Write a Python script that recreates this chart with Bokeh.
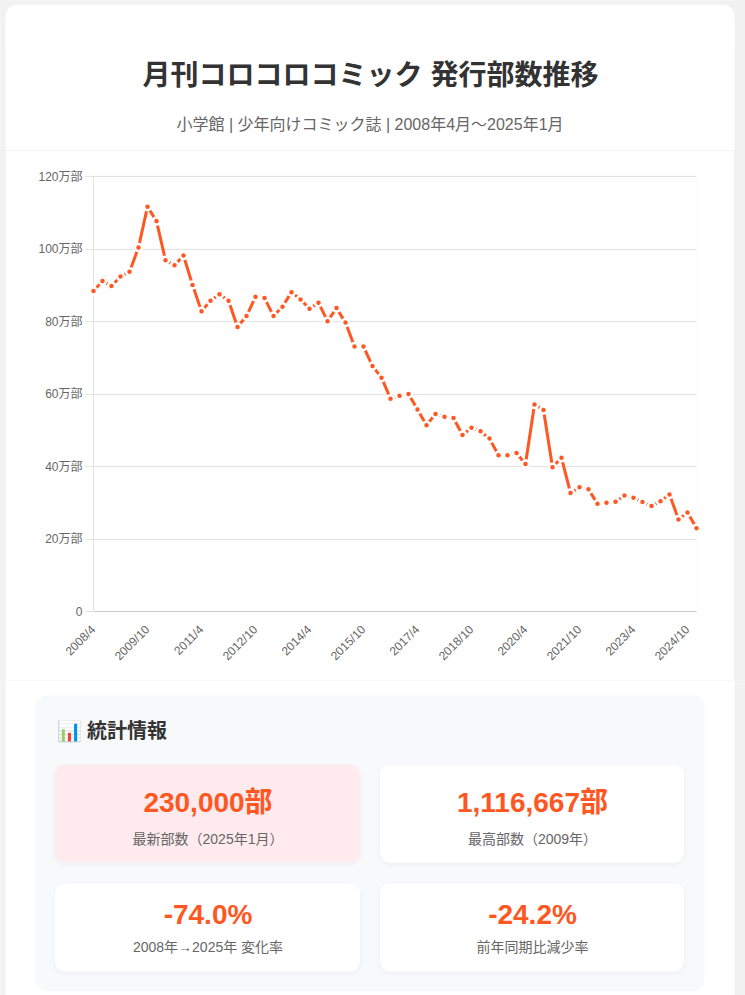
from math import pi
from bokeh.embed import file_html
from bokeh.layouts import column
from bokeh.models import BoxAnnotation, FixedTicker, Label, Range1d
from bokeh.plotting import figure
from bokeh.resources import INLINE

months = ["2008/4","2008/7","2008/10","2009/1","2009/4","2009/7","2009/10","2010/1","2010/4","2010/7",
          "2010/10","2011/1","2011/4","2011/7","2011/10","2012/1","2012/4","2012/7","2012/10","2013/1",
          "2013/4","2013/7","2013/10","2014/1","2014/4","2014/7","2014/10","2015/1","2015/4","2015/7",
          "2015/10","2016/1","2016/4","2016/7","2016/10","2017/1","2017/4","2017/7","2017/10","2018/1",
          "2018/4","2018/7","2018/10","2019/1","2019/4","2019/7","2019/10","2020/1","2020/4","2020/7",
          "2020/10","2021/1","2021/4","2021/7","2021/10","2022/1","2022/4","2022/7","2022/10","2023/1",
          "2023/4","2023/7","2023/10","2024/1","2024/4","2024/7","2024/10","2025/1"]
copies = [88.4,91.2,89.8,92.4,93.7,100.4,111.67,107.7,96.9,95.5,
          98.2,90.1,82.8,85.7,87.5,85.7,78.5,81.5,86.8,86.5,
          81.5,84.1,88.1,86.1,83.5,85.2,80.1,83.7,79.7,73.1,
          73.1,67.7,64.5,58.7,59.5,60.0,55.7,51.4,54.5,53.7,
          53.4,48.7,50.7,49.7,47.7,43.1,43.1,43.7,40.7,57.1,
          55.6,39.8,42.4,32.7,34.3,33.7,29.7,30.0,30.3,32.0,
          31.4,30.2,29.1,30.4,32.3,25.4,27.3,23.0]
y_ticks = [0,20,40,60,80,100,120]
title = "月刊コロコロコミック 発行部数推移"
subtitle = "小学館 | 少年向けコミック誌 | 2008年4月〜2025年1月"
stats_heading = "📊 統計情報"
stat_values = ["230,000部","1,116,667部","-74.0%","-24.2%"]
stat_labels = ["最新部数（2025年1月）","最高部数（2009年）","2008年→2025年 変化率","前年同期比減少率"]

FONT = "Liberation Sans, Noto Sans CJK JP"
PAGE = "#f1f1f1"
W, H = 745, 995
HEAD_H, CHART_H = 150, 530
FL, FR, FT, FB = 93, 696, 175, 611
CARD_L, CARD_R = 5, 734
PX_PER_UNIT = 435 / 120


def panel(y0, y1, nudge=0):
    """A figure whose whole canvas is a frame with page-pixel data coordinates."""
    f = figure(width=W, height=y1-y0, output_backend="svg", toolbar_location=None,
               x_range=Range1d(0, W), y_range=Range1d(y1+nudge, y0+nudge), x_axis_location=None, y_axis_location=None,
               min_border=0, background_fill_color="white", border_fill_color="white", outline_line_color=None,
               frame_align=False)
    f.grid.visible = False
    return f


def box(f, l, r, t, b, color, radius=0, alpha=1.0):
    f.add_layout(BoxAnnotation(left=l, right=r, top=t, bottom=b, fill_color=color, fill_alpha=alpha,
                               line_color=None, border_radius=radius, level="underlay"))


def text(f, x, y, s, size, color, bold=False, align="center"):
    f.add_layout(Label(x=x, y=y, text=s, text_font=FONT, text_font_size=f"{size}px", text_color=color,
                       text_align=align, text_baseline="middle", text_font_style="bold" if bold else "normal"))


head = panel(0, HEAD_H)
box(head, -5, W+5, -5, 20, PAGE)
box(head, -5, CARD_L, -5, HEAD_H+40, PAGE)
box(head, CARD_R, W+5, -5, HEAD_H+40, PAGE)
box(head, CARD_L, CARD_R, 4, 60, "white", 12)
text(head, 370, 75, title, 28, "#333333", True)
text(head, 369.5, 124, subtitle, 16, "#666666")

p = figure(width=CARD_R-CARD_L, height=CHART_H, output_backend="svg", toolbar_location=None,
           x_range=Range1d(0, len(copies)-1), y_range=Range1d(0, 120 + 1/PX_PER_UNIT),
           min_border_left=FL-CARD_L, min_border_right=CARD_R-FR, min_border_top=FT-HEAD_H,
           min_border_bottom=HEAD_H+CHART_H-FB, margin=(0, 0, 0, CARD_L), frame_align=False,
           background_fill_color="white", border_fill_color="white", outline_line_color=None)
p.xgrid.visible = False
p.ygrid.ticker = FixedTicker(ticks=y_ticks)
p.ygrid.grid_line_color = "#e2e2e2"
p.ygrid.grid_line_width = 1

ya = p.yaxis[0]
ya.ticker = FixedTicker(ticks=y_ticks)
ya.major_label_overrides = {t: ("0" if t == 0 else f"{t}万部") for t in y_ticks}
ya.major_label_text_font = FONT
ya.major_label_text_font_size = "12px"
ya.major_label_text_color = "#666666"
ya.axis_line_color = "#e2e2e2"
ya.major_tick_line_color = "#e2e2e2"
ya.major_tick_in = 0
ya.major_tick_out = 8
ya.minor_tick_line_color = None
ya.major_label_standoff = 3

xa = p.xaxis[0]
tick_idx = list(range(0, len(months), 6))
xa.ticker = FixedTicker(ticks=tick_idx)
xa.major_label_overrides = {i: months[i] for i in tick_idx}
xa.major_label_orientation = pi/4
xa.major_label_text_font = FONT
xa.major_label_text_font_size = "12px"
xa.major_label_text_color = "#666666"
xa.axis_line_color = "#cccccc"
xa.major_tick_line_color = None
xa.minor_tick_line_color = None
xa.major_label_standoff = 10

xs = list(range(len(copies)))
p.line(xs, copies, line_color="#ff5722", line_width=3, level="overlay")
p.scatter(xs, copies, size=7, fill_color="#ff5722", line_color="white", line_width=2.5, level="overlay")

stats = panel(HEAD_H+CHART_H, H, nudge=1)
box(stats, -5, CARD_L, HEAD_H+CHART_H-40, H+40, PAGE)
box(stats, CARD_R, W+5, HEAD_H+CHART_H-40, H+40, PAGE)
box(stats, 35, 704, 696, 992, "#f8f9fa", 12)
cards = [(54.5, 359.5, 765, 863, "#ffebee"), (379.5, 683.5, 765, 863, "white"),
         (54.5, 359.5, 884, 972, "white"), (379.5, 683.5, 884, 972, "white")]
for l, r, t, b, c in cards:
    for d, a in ((4, .003), (3, .004), (2, .005), (1, .006)):
        box(stats, l-d, r+d, t-d+2, b+d+2, "black", 10+d, a)
    box(stats, l, r, t, b, c, 10)

text(stats, 56, 731, stats_heading, 20, "#333333", True, "left")
centers = [(207.5, 803, 839), (532, 803, 839), (207.5, 915, 947), (532, 915, 947)]
for (cx, vy, ly), v, lab in zip(centers, stat_values, stat_labels):
    text(stats, cx, vy, v, 28, "#ff5722", True)
    text(stats, cx, ly, lab, 14, "#666666")

root = column(head, p, stats, spacing=0)
html = file_html(root, INLINE).replace("<body>", f'<body style="margin:0;overflow:hidden;background:{PAGE}">')
open("out.html", "w").write(html)
